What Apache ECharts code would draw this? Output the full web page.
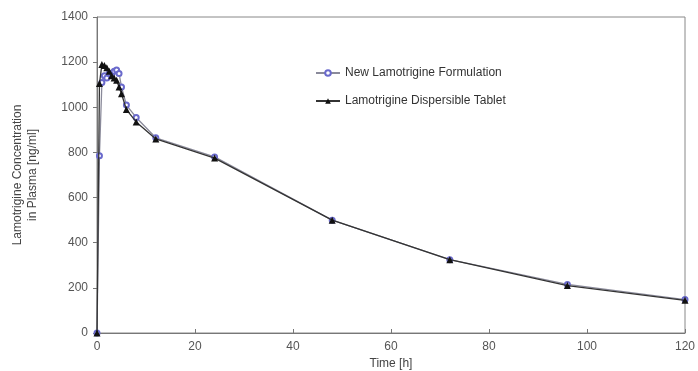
<!DOCTYPE html>
<html>
<head>
<meta charset="utf-8">
<script src="https://cdn.jsdelivr.net/npm/echarts@6/dist/echarts.min.js"></script>
<style>html,body{margin:0;padding:0;background:#fff}#c{width:698px;height:371px}</style>
</head>
<body>
<div id="c"></div>
<script>
const timesNew = [0, 0.5, 1, 1.5, 2, 2.5, 3, 3.5, 4, 4.5, 5, 6, 8, 12, 24, 48, 72, 96, 120];
const newFormulation = [0, 785, 1110, 1140, 1130, 1150, 1150, 1160, 1165, 1150, 1090, 1010, 955, 865, 780, 500, 325, 215, 148];
const timesDisp = [0, 0.5, 1, 1.5, 2, 2.5, 3, 3.5, 4, 4.5, 5, 6, 8, 12, 24, 48, 72, 96, 120];
const dispersibleTablet = [0, 1105, 1190, 1185, 1175, 1160, 1140, 1130, 1120, 1090, 1060, 990, 935, 860, 775, 500, 325, 210, 145];
const seriesNames = ['New Lamotrigine Formulation', 'Lamotrigine Dispersible Tablet'];
const xTicks = [0, 20, 40, 60, 80, 100, 120];
const yTicks = [0, 200, 400, 600, 800, 1000, 1200, 1400];

const chart = echarts.init(document.getElementById('c'));
const font = 'Liberation Sans, Arial, sans-serif';
chart.setOption({
  animation: false,
  backgroundColor: '#fff',
  grid: { left: 97, right: 13, top: 17, bottom: 38, show: true, borderColor: '#888', borderWidth: 1, containLabel: false, outerBoundsMode: 'none' },
  legend: {
    orient: 'vertical', left: 310, top: 62, itemGap: 16, itemWidth: 24, itemHeight: 7,
    textStyle: { fontFamily: font, fontSize: 12, color: '#333' },
    data: seriesNames
  },
  xAxis: {
    type: 'value', min: xTicks[0], max: xTicks[xTicks.length - 1], interval: 20,
    name: 'Time [h]', nameLocation: 'middle', nameGap: 25,
    nameTextStyle: { fontFamily: font, fontSize: 12, color: '#444' },
    axisLine: { lineStyle: { color: '#777' } },
    axisTick: { inside: true, length: 4, lineStyle: { color: '#777' } },
    axisLabel: { fontFamily: font, fontSize: 12, color: '#555', margin: 8, formatter: v => String(v) },
    splitLine: { show: false }
  },
  yAxis: {
    type: 'value', min: yTicks[0], max: yTicks[yTicks.length - 1], interval: 200,
    name: 'Lamotrigine Concentration\nin Plasma [ng/ml]', nameLocation: 'middle', nameGap: 57,
    nameTextStyle: { fontFamily: font, fontSize: 12, color: '#444', lineHeight: 15 },
    axisLine: { show: true, lineStyle: { color: '#777' } },
    axisTick: { show: true, length: 4, lineStyle: { color: '#777' } },
    axisLabel: { fontFamily: font, fontSize: 12, color: '#555', margin: 9, formatter: v => String(v) },
    splitLine: { show: false }
  },
  series: [
    {
      name: seriesNames[0], type: 'line',
      data: timesNew.map((t, i) => [t, newFormulation[i]]),
      symbol: 'emptyCircle', symbolSize: 5,
      lineStyle: { color: '#8a8a9a', width: 1.3 },
      itemStyle: { color: '#6a6acc', borderColor: '#6a6acc', borderWidth: 1 },
      z: 2
    },
    {
      name: seriesNames[1], type: 'line',
      data: timesDisp.map((t, i) => [t, dispersibleTablet[i]]),
      symbol: 'triangle', symbolSize: 7,
      lineStyle: { color: '#333', width: 1.3 },
      itemStyle: { color: '#111' },
      z: 3
    }
  ]
});
</script>
</body>
</html>
